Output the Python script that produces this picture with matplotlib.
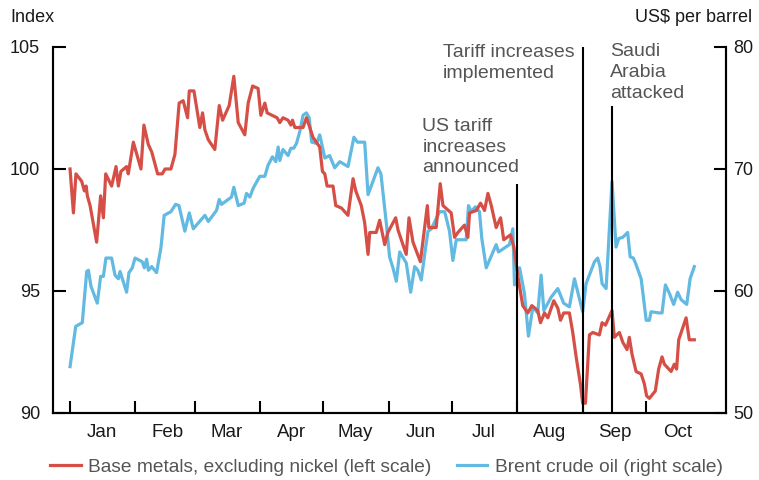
import numpy as np
import pandas as pd
import matplotlib
matplotlib.use("Agg")
import matplotlib.pyplot as plt

plt.rcParams['font.family'] = ['Liberation Sans', 'DejaVu Sans']

START = pd.Timestamp("2019-01-01")

# Base metals excluding nickel (index, left scale); days counted from 1 Jan 2019
metals_days = [0, 1.6, 2.8, 5.5, 6.8, 7.6, 8.2, 9.5, 12.6, 14.5, 15.8, 16.9, 19.7, 21.8, 22.9,
               24.1, 26.8, 27.6, 30.0, 33.6, 35.0, 37.1, 38.7, 41.5, 43.7, 45.0, 47.8, 49.7,
               51.7, 53.6, 55.7, 56.5, 58.7, 61.5, 62.8, 63.9, 65.5, 68.6, 70.7, 72.3, 75.4,
               77.6, 79.7, 82.8, 84.4, 86.5, 89.1, 90.4, 92.3, 93.4, 98.1, 99.4, 100.9, 103.3,
               104.6, 105.4, 106.5, 110.4, 112.0, 113.6, 115.1, 118.3, 119.6, 120.7, 121.8,
               124.6, 125.9, 128.6, 131.7, 134.1, 135.4, 138.0, 139.6, 141.2, 142.0, 145.1,
               146.7, 149.1, 150.6, 154.3, 155.4, 159.3, 160.6, 162.5, 166.0, 169.3, 170.0,
               173.5, 175.4, 176.7, 180.6, 182.2, 183.8, 186.9, 188.5, 189.3, 192.5, 194.5,
               196.4, 198.0, 199.6, 201.9, 204.0, 205.5, 208.7, 210.3, 212.2, 214.5, 216.9,
               218.8, 221.6, 222.9, 224.8, 226.4, 229.2, 231.1, 232.4, 233.9, 236.6, 238.2,
               239.8, 241.8, 242.9, 244.2, 246.1, 247.7, 250.8, 252.1, 253.7, 256.8, 257.9,
               259.0, 260.3, 261.9, 263.9, 265.0, 266.3, 268.2, 270.6, 272.1, 273.2, 274.5,
               277.3, 278.9, 280.5, 281.6, 284.8, 286.3, 287.4, 288.4, 291.9, 293.4, 295.8]
metals_vals = [100.0, 98.2, 99.8, 99.5, 99.1, 99.3, 98.9, 98.5, 97.0, 98.9, 98.0, 99.8, 99.3, 100.1, 99.3,
               99.9, 100.1, 99.8, 101.1, 100.0, 101.8, 101.0, 100.7, 99.8, 99.8, 100.0, 100.0, 100.6,
               102.7, 102.8, 102.1, 103.2, 103.2, 101.7, 102.3, 101.6, 101.2, 100.8, 102.6, 102.0, 102.6,
               103.8, 101.9, 101.4, 102.7, 103.4, 103.3, 102.2, 102.7, 102.3, 102.1, 101.9, 102.1, 102.0,
               101.8, 102.0, 101.7, 101.7, 102.1, 101.7, 101.3, 100.9, 99.9, 99.8, 99.3,
               99.3, 98.5, 98.4, 98.1, 99.6, 99.1, 98.5, 97.8, 96.5, 97.4, 97.4,
               97.9, 96.9, 97.4, 98.0, 97.5, 96.5, 98.0, 97.0, 96.2, 98.5, 97.6,
               97.6, 99.4, 98.5, 98.2, 97.2, 97.4, 97.7, 97.2, 98.2, 98.3, 98.6,
               98.3, 99.0, 98.5, 97.6, 98.0, 97.1, 97.3, 96.8, 95.6, 94.4, 94.1,
               94.4, 94.2, 93.7, 94.1, 93.9, 94.6, 94.3, 93.8, 94.1, 94.1, 93.3,
               92.3, 91.2, 90.4, 90.4, 93.2, 93.3, 93.2, 93.7, 93.6, 94.2, 93.1,
               93.2, 93.3, 92.9, 92.6, 93.1, 92.4, 91.7, 91.6, 91.2, 90.7, 90.6,
               90.9, 91.8, 92.3, 92.0, 91.7, 92.0, 91.8, 93.0, 93.9, 93.0, 93.0]

# Brent crude oil (US$ per barrel, right scale)
brent_days = [0, 2.7, 5.8, 7.9, 8.7, 9.9, 12.9, 14.5, 15.8, 17.0, 19.7, 21.3, 22.9, 23.7, 26.8,
              27.9, 29.5, 30.8, 34.2, 35.2, 36.3, 37.1, 38.7, 41.0, 43.1, 44.6, 47.8, 50.0,
              51.6, 54.4, 56.5, 58.4, 63.9, 65.5, 69.4, 70.7, 71.8, 76.5, 77.6, 79.7, 82.5,
              83.6, 85.2, 86.7, 89.9, 92.3, 93.8, 95.9, 97.5, 98.6, 99.4, 100.9, 103.3, 104.6,
              106.0, 107.3, 108.9, 110.4, 112.0, 113.3, 114.5, 116.8, 118.3, 119.1, 120.7,
              123.0, 125.4, 127.8, 131.7, 134.5, 136.2, 139.6, 141.2, 145.9, 147.3, 149.9,
              151.4, 153.0, 154.6, 156.2, 159.3, 161.4, 163.3, 164.8, 166.4, 168.5, 169.6,
              171.2, 175.1, 177.5, 179.8, 181.4, 183.0, 187.7, 188.8, 190.1, 192.0, 194.0,
              195.1, 197.2, 201.9, 203.0, 208.2, 209.8, 210.6, 213.0, 215.3, 217.2, 219.3,
              221.6, 223.2, 224.5, 228.0, 231.1, 233.9, 236.6, 239.0, 242.9, 244.5, 248.5,
              250.0, 251.1, 252.1, 254.0, 256.8, 258.7, 260.0, 261.9, 264.2, 265.4, 266.9,
              267.9, 270.6, 273.0, 274.5, 275.3, 279.2, 280.5, 282.1, 284.0, 286.0, 287.9,
              289.5, 292.2, 293.8, 295.8]
brent_vals = [53.8, 57.1, 57.4, 61.6, 61.7, 60.4, 59.0, 61.2, 61.2, 62.7, 62.7, 61.3, 61.0, 61.6, 59.9,
              61.5, 61.9, 62.7, 62.4, 61.9, 62.6, 61.7, 62.0, 61.5, 63.6, 66.2, 66.5, 67.1,
              67.0, 64.9, 66.4, 65.1, 66.2, 65.7, 66.6, 67.5, 67.1, 67.7, 68.5, 67.0, 67.2,
              68.0, 67.7, 68.4, 69.4, 69.4, 70.3, 71.0, 70.6, 71.8, 70.7, 71.6, 71.1, 71.7,
              71.7, 72.1, 73.1, 74.4, 74.6, 74.2, 72.2, 72.1, 72.8, 72.2, 70.9,
              71.1, 70.1, 70.6, 70.2, 72.6, 72.2, 72.2, 67.9, 70.1, 69.6, 65.5,
              62.8, 61.9, 60.8, 63.2, 62.3, 59.9, 62.0, 61.7, 60.9, 63.6, 64.9,
              65.1, 66.5, 66.5, 64.9, 62.5, 64.2, 64.2, 67.0, 66.5, 66.9, 66.5,
              64.3, 61.9, 63.8, 63.2, 63.8, 65.1, 60.5, 61.9, 59.8, 56.3, 58.7,
              58.2, 61.3, 58.4, 59.5, 60.2, 59.0, 58.7, 61.0, 58.3, 60.6, 62.4,
              62.7, 62.0, 60.6, 60.2, 69.0, 63.6, 64.3, 64.4, 64.8, 62.8, 62.7,
              62.3, 61.0, 57.6, 57.6, 58.3, 58.2, 58.2, 60.5, 59.8, 58.9, 59.9,
              59.3, 58.9, 61.0, 62.0]

month_labels = ["Jan", "Feb", "Mar", "Apr", "May", "Jun", "Jul", "Aug", "Sep", "Oct"]
left_ticks = [90, 95, 100, 105]
right_ticks = [50, 60, 70, 80]

# events: (date, top of line on left scale, label, label x (days), label middle (left scale))
events = [("2019-08-01", 99.4, "US tariff\nincreases\nannounced", 167.0, 100.9),
          ("2019-09-01", 105.0, "Tariff increases\nimplemented", 176.7, 104.35),
          ("2019-09-15", 102.6, "Saudi\nArabia\nattacked", 256.0, 103.95)]

RED = "#d64f47"
BLUE = "#62b9e1"
TXT = "#1a1a1a"
GREY = "#555555"


def to_dates(days):
    return START + pd.to_timedelta(np.array(days), unit="D")


fig = plt.figure(figsize=(7.59, 4.80), dpi=100)
ax = fig.add_axes([0.0692, 0.1396, 0.8873, 0.7625])
ax2 = ax.twinx()
ax.set_zorder(ax2.get_zorder() + 1)
ax.patch.set_visible(False)

l2, = ax2.plot(to_dates(brent_days), brent_vals, color=BLUE, lw=2.3,
               solid_joinstyle="round", label="Brent crude oil (right scale)")
l1, = ax.plot(to_dates(metals_days), metals_vals, color=RED, lw=2.3,
              solid_joinstyle="round", label="Base metals, excluding nickel (left scale)")

ax.set_ylim(90, 105)
ax2.set_ylim(50, 80)
ax.set_xlim(to_dates([-8.3])[0], to_dates([310.8])[0])

ax.set_yticks(left_ticks)
ax2.set_yticks(right_ticks)

# month-start ticks, labels centred mid-month
month_starts = pd.date_range("2019-01-01", periods=len(month_labels), freq="MS")
ax.set_xticks(month_starts)
ax.set_xticklabels([])
ax.set_xticks(month_starts + pd.Timedelta(days=15), minor=True)
ax.set_xticklabels(month_labels, minor=True)
ax.tick_params(axis="x", which="minor", length=0, pad=8, labelsize=13.5, labelcolor=TXT)
ax.tick_params(axis="x", which="major", direction="in", length=9, width=1.5)
ax.tick_params(axis="y", direction="in", length=9, width=1.5, pad=9, labelsize=13, labelcolor=TXT)
ax2.tick_params(axis="y", direction="in", length=9, width=1.5, pad=5, labelsize=13, labelcolor=TXT)

for a in (ax, ax2):
    a.spines["top"].set_visible(False)
    for s in ("left", "right", "bottom"):
        a.spines[s].set_linewidth(1.5)

for date, top, label, lx, ly in events:
    ax.plot([pd.Timestamp(date)] * 2, [90, top], color="black", lw=1.5, zorder=5,
            solid_capstyle="butt")
    ax.text(to_dates([lx])[0], ly, label, ha="left", va="center", fontsize=14,
            color=GREY, linespacing=1.28, clip_on=False)

fig.text(10 / 759, 1 - 18 / 480, "Index", fontsize=13, color=TXT, va="center", ha="left")
fig.text(752 / 759, 1 - 18 / 480, "US$ per barrel", fontsize=13, color=TXT, va="center", ha="right")

fig.legend(handles=[l1, l2], loc="center left", bbox_to_anchor=(50 / 759, 13 / 480),
           ncol=2, frameon=False, fontsize=13.8, handlelength=1.6, handletextpad=0.4,
           columnspacing=1.3, borderpad=0, borderaxespad=0, labelcolor=GREY)

fig.savefig("out.png", dpi=100)
